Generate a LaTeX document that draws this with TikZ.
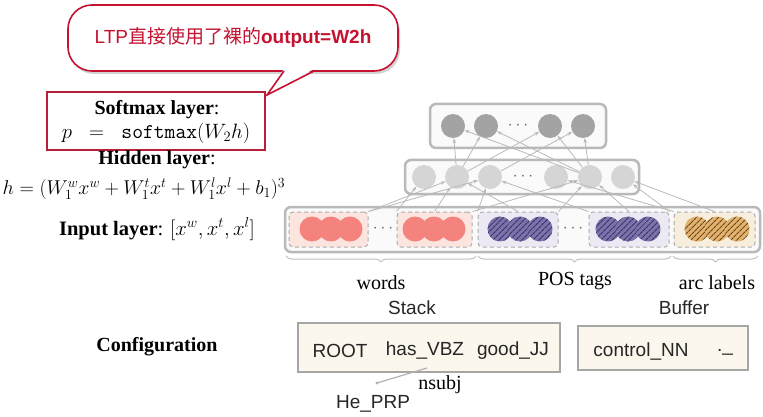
\documentclass[tikz,border=0pt]{standalone}
\usepackage{graphicx}
\usepackage{fontspec}
\setmainfont{Liberation Serif}
\setsansfont{Liberation Sans}
\newfontfamily\cjk{Noto Sans CJK SC}
\usetikzlibrary{shadows,patterns.meta,decorations.pathreplacing,arrows.meta,calc}
\definecolor{callred}{HTML}{C41230}
\definecolor{boxred}{HTML}{B8203A}
\definecolor{salmon}{HTML}{F3837C}
\definecolor{salmonbg}{HTML}{FCE4DF}
\definecolor{purp}{HTML}{7C72AC}
\definecolor{purpbg}{HTML}{ECE9F4}
\definecolor{purpline}{HTML}{3A3260}
\definecolor{ochre}{HTML}{E2B26E}
\definecolor{ochrebg}{HTML}{F8EEDD}
\definecolor{ochreline}{HTML}{6A4818}
\definecolor{beige}{HTML}{FCF7EC}
\begin{document}
\begin{tikzpicture}[x=1pt,y=-1pt,
  font=\fontsize{20}{24}\selectfont,
  layerbox/.style={draw=gray!55,line width=2.5pt,rounded corners=6pt,fill=gray!4},
  groupbox/.style={draw=gray!65,line width=1pt,dash pattern=on 4pt off 3pt,rounded corners=4pt},
  tnode/.style={circle,minimum size=24pt,inner sep=0pt,fill=gray!72},
  hnode/.style={circle,minimum size=24pt,inner sep=0pt,fill=gray!33},
  rnode/.style={circle,minimum size=25pt,inner sep=0pt,fill=salmon},
  pnode/.style={circle,minimum size=25pt,inner sep=0pt,fill=purp,
     postaction={pattern={Lines[angle=45,distance=4pt,line width=1.1pt]},pattern color=purpline}},
  onode/.style={circle,minimum size=25pt,inner sep=0pt,fill=ochre,
     postaction={pattern={Lines[angle=45,distance=4pt,line width=1.1pt]},pattern color=ochreline}},
  conn/.style={draw=gray!55,line width=0.8pt,-{Stealth[length=5pt,width=3.5pt]}},
  dotsnode/.style={inner sep=0pt,font=\fontsize{16}{16}\selectfont,text=gray!80!black},
  brc/.style={draw=gray!50,line width=1pt,decorate,decoration={brace,amplitude=6pt,mirror}},
  sanslbl/.style={font=\sffamily\fontsize{19}{22}\selectfont,text=black!85},
  cfgbox/.style={draw=gray!70,line width=2.5pt,fill=beige}
]
\useasboundingbox (0,0) rectangle (763,417);

% ---------- callout ----------
\draw[callred,line width=1.6pt,fill=white,rounded corners=24pt,drop shadow={opacity=0.35,shadow xshift=2pt,shadow yshift=-3pt}]
  (68,5) rectangle (398,71);
\fill[white] (284,69) -- (314,69) -- (267,95) -- cycle;
\draw[callred,line width=1.6pt,line join=miter] (284,71) -- (267,95) -- (314,71);
\node[font=\sffamily\fontsize{19}{22}\selectfont,text=callred] (callout) at (233,37)
  {LTP{\cjk 直接使用了裸的}\textbf{output=W2h}};

% ---------- left labels ----------
\draw[boxred,line width=2pt] (47,92) rectangle (265,150);
\node (smlabel) at (157,110) {\textbf{Softmax layer}:};
\node[font=\fontsize{21}{24}\selectfont] (smeq) at (156,133) {$p\;\;=\;\;\texttt{softmax}(W_2h)$};
\node[inner sep=1pt] (hlabel) at (157,160) {\textbf{Hidden layer}:};
\node[inner sep=0pt] (heq) at (144,189) {\scalebox{0.965}{$h=(W_1^wx^w+W_1^tx^t+W_1^lx^l+b_1)^3$}};
\node[font=\fontsize{20.5}{24}\selectfont] (ilabel) at (157,229) {\textbf{Input layer}: $[x^w,x^t,x^l]$};
\node (cfglabel) at (157,347) {\textbf{Configuration}};

% ---------- layer boxes ----------
\draw[layerbox] (430,104) rectangle (606,148);
\draw[layerbox] (405,160) rectangle (639,194);
\draw[layerbox] (285,207) rectangle (760,252);

% top layer
\node[tnode] (t1) at (453,126) {};
\node[tnode] (t2) at (486,126) {};
\node[dotsnode] (tdots) at (518,126) {$\cdots$};
\node[tnode] (t3) at (550,126) {};
\node[tnode] (t4) at (583,126) {};

% hidden layer
\node[hnode] (h1) at (424,177) {};
\node[hnode] (h2) at (457,177) {};
\node[hnode] (h3) at (490,177) {};
\node[dotsnode] (hdots) at (523,177) {$\cdots$};
\node[hnode] (h4) at (556,177) {};
\node[hnode] (h5) at (590,177) {};
\node[hnode] (h6) at (623,177) {};

% input groups
\node[groupbox,fill=salmonbg,minimum width=79pt,minimum height=35pt] (g1) at (328.5,229.5) {};
\node[groupbox,fill=salmonbg,minimum width=75pt,minimum height=35pt] (g2) at (434.5,229.5) {};
\node[groupbox,fill=purpbg,minimum width=80pt,minimum height=35pt] (g3) at (518,229.5) {};
\node[groupbox,fill=purpbg,minimum width=80pt,minimum height=35pt] (g4) at (629,229.5) {};
\node[groupbox,fill=ochrebg,minimum width=81pt,minimum height=35pt] (g5) at (714.5,229.5) {};

\node[rnode] (r1) at (312,229) {};
\node[rnode] (r2) at (331,229) {};
\node[rnode] (r3) at (350,229) {};
\node[dotsnode] (idots1) at (383,229) {$\cdots$};
\node[rnode] (r4) at (415,229) {};
\node[rnode] (r5) at (434,229) {};
\node[rnode] (r6) at (453,229) {};

\node[pnode] (p1) at (500,229) {};
\node[pnode] (p2) at (520,229) {};
\node[pnode] (p3) at (540,229) {};
\node[dotsnode] (idots2) at (573,229) {$\cdots$};
\node[pnode] (p4) at (608,229) {};
\node[pnode] (p5) at (628,229) {};
\node[pnode] (p6) at (648,229) {};

\node[onode] (o1) at (697,229) {};
\node[onode] (o2) at (717,229) {};
\node[onode] (o3) at (737,229) {};

% connections input -> hidden
\draw[conn] (g1.north east) -- (h2);
\draw[conn] (g1.north east) -- (h3);
\draw[conn] (g2.north west) -- (h1);
\draw[conn] (g2.north) -- (h2);
\draw[conn] (g2.north east) -- (h5);
\draw[conn] (g3.north west) -- (h3);
\draw[conn] (g3.north) -- (h2);
\draw[conn] (g3.north east) -- (h5);
\draw[conn] (g4.north west) -- (h3);
\draw[conn] (g4.north) -- (h5);
\draw[conn] (g4.north east) -- (h6);
\draw[conn] (g5.north west) -- (h4);
\draw[conn] (g5.north) -- (h6);

% connections hidden -> top
\draw[conn] (h2) -- (t1);
\draw[conn] (h2) -- (t2);
\draw[conn] (h2) -- (t3);
\draw[conn] (h3) -- (t4);
\draw[conn] (h5) -- (t1);
\draw[conn] (h5) -- (t2);
\draw[conn] (h5) -- (t3);
\draw[conn] (h5) -- (t4);

% braces
\draw[brc] (286,256) -- (476,256);
\draw[brc] (478,256) -- (671,256);
\draw[brc] (673,256) -- (758,256);
\node (words) at (381,283) {words};
\node (pos) at (575,281) {POS tags};
\node (arcl) at (717,283) {arc labels};

% ---------- configuration ----------
\node[sanslbl] (stacklbl) at (412,308) {Stack};
\node[sanslbl] (bufferlbl) at (684,308) {Buffer};
\draw[cfgbox] (298,323) rectangle (560,372);
\draw[cfgbox] (578,326) rectangle (748,370);
\node[sanslbl] (root) at (340,351) {ROOT};
\node[sanslbl] (has) at (425,351) {has\_VBZ};
\node[sanslbl] (good) at (513,351) {good\_JJ};
\node[sanslbl] (control) at (641,352) {control\_NN};
\node[sanslbl] (ell) at (725,352) {.\_};
\coordinate (hedot) at (377,383);
\draw[gray!60,line width=1.2pt] (427,368) -- (hedot);
\fill[gray!60] (hedot) circle (1.6pt);
\node (nsubj) at (440,385) {nsubj};
\node[sanslbl] (he) at (373,404) {He\_PRP};
\end{tikzpicture}
\end{document}
